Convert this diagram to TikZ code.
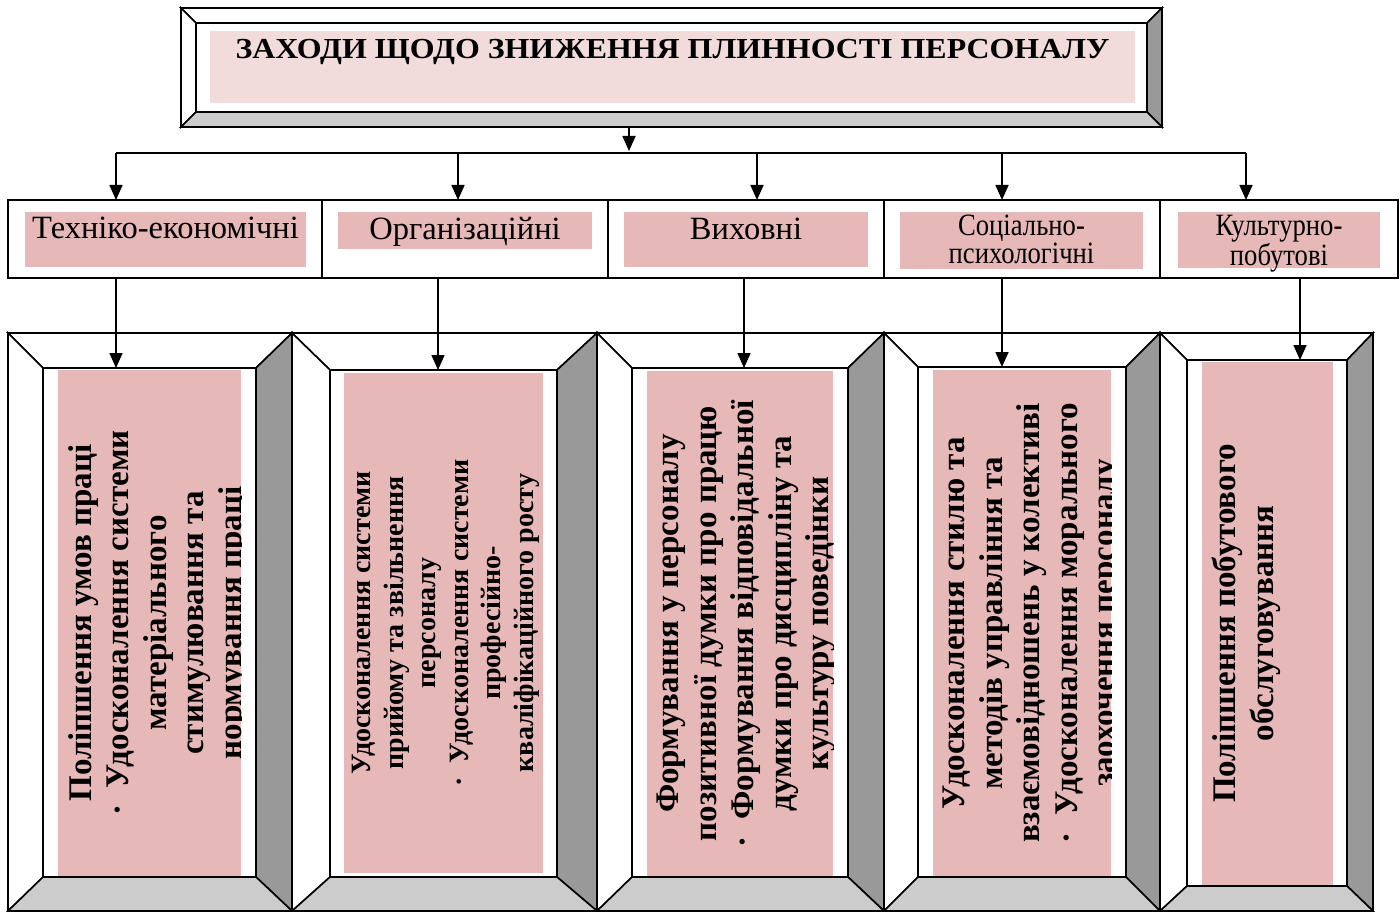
\documentclass[tikz,border=0pt]{standalone}
\usepackage{fontspec}
\setmainfont{Liberation Serif}
\newfontfamily\shyrokyj[FakeStretch=1.1]{Liberation Serif}
\newfontfamily\vuzkyj[FakeStretch=0.86]{Liberation Serif}
\usetikzlibrary{arrows.meta,fit}

\definecolor{rozh}{HTML}{E6B8B7}
\definecolor{rozhsvit}{HTML}{F2DCDB}
\definecolor{sirtemn}{HTML}{999999}
\definecolor{sirsvit}{HTML}{CCCCCC}

\tikzset{
  ramka/.style={inner sep=0pt, outer sep=0pt},
  pole/.style={fill=rozh, inner sep=0pt, outer sep=0pt},
  liniya/.style={line width=1.6pt},
  strilka/.style={liniya, -{Triangle[width=13pt,length=15pt]}},
  vertek/.style={rotate=90, anchor=north, align=center, inner sep=0pt,
    font=\bfseries\fontsize{33}{37.5}\selectfont},
  kat/.style={anchor=north, align=center, inner sep=0pt,
    font=\fontsize{32.5}{26}\selectfont},
  kat2/.style={kat, font=\vuzkyj\fontsize{31}{28}\selectfont},
}

% ramka z fasetkoju: im'ja, zovnishnij i vnutrishnij prjamokutnyky
\newcommand\bevelbox[9]{%
  \node[ramka, fit={(#2,#3) (#4,#5)}] (#1o) {};
  \node[ramka, fit={(#6,#7) (#8,#9)}] (#1i) {};
  \filldraw[fill=white, liniya] (#1o.north west) -- (#1o.north east) -- (#1i.north east) -- (#1i.north west) -- cycle;
  \filldraw[fill=white, liniya] (#1o.north west) -- (#1i.north west) -- (#1i.south west) -- (#1o.south west) -- cycle;
  \filldraw[fill=sirtemn, liniya] (#1o.north east) -- (#1o.south east) -- (#1i.south east) -- (#1i.north east) -- cycle;
  \filldraw[fill=sirsvit, liniya] (#1o.south west) -- (#1i.south west) -- (#1i.south east) -- (#1o.south east) -- cycle;
  \filldraw[fill=white, liniya] (#1i.north west) rectangle (#1i.south east);
}

\begin{document}
\begin{tikzpicture}[x=1pt, y=-1pt]
\useasboundingbox (0,0) rectangle (1400,912);

% zagolovok
\bevelbox{z}{181}{8}{1162}{127}{196}{23}{1147}{112}
\node[ramka, fill=rozhsvit, fit={(210,31) (1135,103)}] (zp) {};
\node[anchor=north, inner sep=0pt, font=\shyrokyj\bfseries\fontsize{29}{34}\selectfont]
  (zt) at ([yshift=-8pt]zp.north) {ЗАХОДИ ЩОДО ЗНИЖЕННЯ ПЛИННОСТІ ПЕРСОНАЛУ};

% grupy zahodiv
\node[ramka, draw, liniya, fill=white, fit={(8,200) (322,278)}] (c1) {};
\node[ramka, draw, liniya, fill=white, fit={(322,200) (608,278)}] (c2) {};
\node[ramka, draw, liniya, fill=white, fit={(608,200) (884,278)}] (c3) {};
\node[ramka, draw, liniya, fill=white, fit={(884,200) (1160,278)}] (c4) {};
\node[ramka, draw, liniya, fill=white, fit={(1160,200) (1398,278)}] (c5) {};
\node[pole, fit={(25,212) (306,267)}] (k1) {};
\node[pole, fit={(338,212) (592,249)}] (k2) {};
\node[pole, fit={(624,212) (868,267)}] (k3) {};
\node[pole, fit={(900,212) (1143,269)}] (k4) {};
\node[pole, fit={(1178,212) (1380,268)}] (k5) {};
\node[kat] (kt1) at ([yshift=-5pt]k1.north) {Техніко-економічні};
\node[kat] (kt2) at ([yshift=-5pt]k2.north) {Організаційні};
\node[kat] (kt3) at ([yshift=-6pt]k3.north) {Виховні};
\node[kat2] (kt4) at ([yshift=-3pt]k4.north) {Соціально-\\психологічні};
\node[kat2] (kt5) at ([yshift=-3pt]k5.north) {Культурно-\\побутові};

% konkretni zahody
\bevelbox{b1}{8}{333}{292}{911}{43}{368}{256}{877}
\bevelbox{b2}{292}{333}{597}{911}{330}{370}{557}{877}
\bevelbox{b3}{597}{333}{884}{911}{632}{368}{848}{877}
\bevelbox{b4}{884}{333}{1160}{911}{918}{367}{1126}{877}
\bevelbox{b5}{1160}{333}{1373}{911}{1187}{360}{1347}{886}
\node[pole, fit={(58,370) (241,876)}] (p1) {};
\node[pole, fit={(344,373) (543,873)}] (p2) {};
\node[pole, fit={(647,371) (833,876)}] (p3) {};
\node[pole, fit={(933,370) (1111,876)}] (p4) {};
\node[pole, fit={(1202,362) (1333,885)}] (p5) {};

\begin{scope}
\clip (p1.north west) rectangle (p1.south east);
\node[vertek] (v1) at ([xshift=10pt]p1.west) {Поліпшення умов праці\\·~~Удосконалення системи\\матеріального\\стимулювання та\\нормування праці};
\end{scope}
\begin{scope}
\clip (p2.north west) rectangle (p2.south east);
\node[vertek, font=\bfseries\fontsize{28}{32.6}\selectfont] (v2) at ([xshift=8pt]p2.west) {Удосконалення системи\\прийому та звільнення\\персоналу\\·~~Удосконалення системи\\професійно-\\кваліфікаційного росту};
\end{scope}
\begin{scope}
\clip (p3.north west) rectangle (p3.south east);
\node[vertek] (v3) at ([xshift=10pt]p3.west) {Формування у персоналу\\позитивної думки про працю\\·~~Формування відповідальної\\думки про дисципліну та\\культуру поведінки};
\end{scope}
\begin{scope}
\clip (p4.north west) rectangle (p4.south east);
\node[vertek] (v4) at ([xshift=10pt]p4.west) {Удосконалення стилю та\\методів управління та\\взаємовідношень у колективі\\·~~Удосконалення морального\\заохочення персоналу};
\end{scope}
\begin{scope}
\clip (p5.north west) rectangle (p5.south east);
\node[vertek] (v5) at ([xshift=10pt]p5.west) {Поліпшення побутового\\обслуговування};
\end{scope}

% strilky
\coordinate (rozv) at (629,153);
\foreach \i/\x in {1/116,2/458,3/757,4/1002,5/1246}
  \coordinate (s\i) at (\x,153);
\foreach \i/\x in {1/116,2/438,3/744,4/1002,5/1300}
  \coordinate (d\i) at (\x,300);
\draw[strilka, shorten >=2pt] (zo.south -| rozv) -- (rozv);
\draw[liniya] (s1) -- (s5);
\foreach \i in {1,...,5}
  \draw[strilka] (s\i) -- (s\i |- c\i.north);
\foreach \i in {1,...,5}
  \draw[strilka] (c\i.south -| d\i) -- (d\i |- b\i i.north);
\end{tikzpicture}
\end{document}
